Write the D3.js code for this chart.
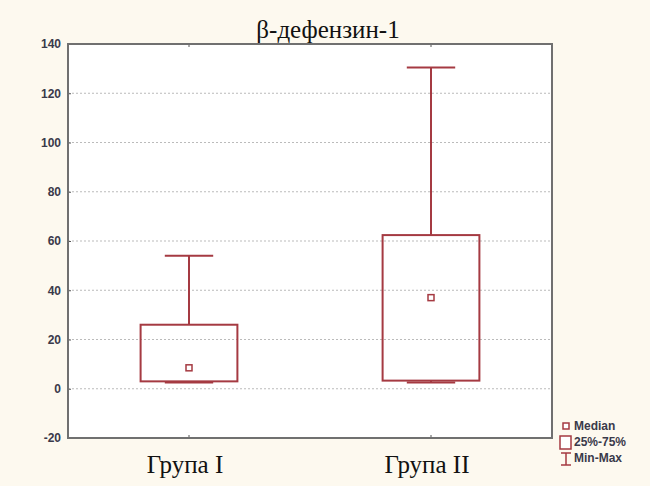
<!DOCTYPE html>
<html><head><meta charset="utf-8">
<script src="https://cdn.jsdelivr.net/npm/d3@7"></script>
<style>body{margin:0;background:#fdf9ef;} svg{display:block;}</style>
</head><body>
<svg id="c" width="650" height="486"></svg>
<script>
const categories = ["Група I", "Група II"];
const minVals = [2.5, 2.5];
const q1Vals = [3, 3.3];
const medianVals = [8.5, 37];
const q3Vals = [26, 62.4];
const maxVals = [54, 130.5];
const yTicks = [-20, 0, 20, 40, 60, 80, 100, 120, 140];
const title = "β-дефензин-1";
const legendLabels = ["Median", "25%-75%", "Min-Max"];

const svg = d3.select("#c");
const L = 68, R = 552, T = 44, B = 438;
const color = "#a53a42";
const x = d3.scaleBand().domain(categories).range([L, R]).padding(0);
const y = d3.scaleLinear().domain([-20, 140]).range([B, T]);

svg.append("rect").attr("width", 650).attr("height", 486).attr("fill", "#fdf9ef");
svg.append("rect").attr("x", L).attr("y", T).attr("width", R - L).attr("height", B - T).attr("fill", "#fff");

// grid
svg.append("g").selectAll("line").data(yTicks.filter(t => t > -20 && t < 140)).join("line")
  .attr("x1", L).attr("x2", R).attr("y1", d => y(d)).attr("y2", d => y(d))
  .attr("stroke", "#bbb").attr("stroke-width", 1).attr("stroke-dasharray", "2,2");

// y axis
const yAxis = d3.axisLeft(y).tickValues(yTicks).tickSize(-3).tickPadding(7).tickFormat(d => String(d));
const ga = svg.append("g").attr("transform", `translate(${L},0)`).call(yAxis);
ga.select(".domain").remove();
ga.selectAll(".tick line").attr("stroke", "#555");
ga.selectAll(".tick text").attr("font-family", "Liberation Sans, Arial, sans-serif")
  .attr("font-size", 12).attr("font-weight", "bold").attr("fill", "#3a3a4a");

// x axis ticks
const xAxis = d3.axisBottom(x).tickSize(-3).tickFormat("");
const gx = svg.append("g").attr("transform", `translate(0,${B})`).call(xAxis);
gx.select(".domain").remove();
gx.selectAll(".tick line").attr("stroke", "#555");
const gxt = svg.append("g").attr("transform", `translate(0,${T})`).call(d3.axisTop(x).tickSize(-3).tickFormat(""));
gxt.select(".domain").remove();
gxt.selectAll(".tick line").attr("stroke", "#555");

// boxes
const data = categories.map((c, i) => ({c, min: minVals[i], q1: q1Vals[i], med: medianVals[i], q3: q3Vals[i], max: maxVals[i]}));
const bw = x.bandwidth() * 0.4, cw = x.bandwidth() * 0.2;
const g = svg.append("g");
data.forEach(d => {
  const cx = x(d.c) + x.bandwidth() / 2;
  g.append("line").attr("x1", cx).attr("x2", cx).attr("y1", y(d.max)).attr("y2", y(d.q3)).attr("stroke", color).attr("stroke-width", 2);
  g.append("line").attr("x1", cx).attr("x2", cx).attr("y1", y(d.q1)).attr("y2", y(d.min)).attr("stroke", color).attr("stroke-width", 2);
  g.append("line").attr("x1", cx - cw/2).attr("x2", cx + cw/2).attr("y1", y(d.max)).attr("y2", y(d.max)).attr("stroke", color).attr("stroke-width", 2);
  g.append("line").attr("x1", cx - cw/2).attr("x2", cx + cw/2).attr("y1", y(d.min)).attr("y2", y(d.min)).attr("stroke", color).attr("stroke-width", 2);
  g.append("rect").attr("x", cx - bw/2).attr("y", y(d.q3)).attr("width", bw).attr("height", y(d.q1) - y(d.q3))
    .attr("fill", "none").attr("stroke", color).attr("stroke-width", 2);
  g.append("rect").attr("x", cx - 3).attr("y", y(d.med) - 3).attr("width", 6).attr("height", 6)
    .attr("fill", "#fff").attr("stroke", color).attr("stroke-width", 1.5);
});

// frame
svg.append("rect").attr("x", L).attr("y", T).attr("width", R - L).attr("height", B - T)
  .attr("fill", "none").attr("stroke", "#707070").attr("stroke-width", 2);

// title
svg.append("text").attr("x", 328).attr("y", 38).attr("text-anchor", "middle")
  .attr("font-family", "Liberation Serif, Times New Roman, serif").attr("font-size", 25).attr("fill", "#111").text(title);

// x labels
svg.append("g").selectAll("text").data(categories).join("text")
  .attr("x", d => x(d) + x.bandwidth() / 2 - 4).attr("y", 473).attr("text-anchor", "middle")
  .attr("font-family", "Liberation Serif, Times New Roman, serif").attr("font-size", 25).attr("fill", "#111").text(d => d);

// legend
const lg = svg.append("g").attr("font-family", "Liberation Sans, Arial, sans-serif").attr("font-size", 12).attr("fill", "#3a3a4a");
lg.append("rect").attr("x", 563).attr("y", 423).attr("width", 6).attr("height", 6).attr("fill", "#fff").attr("stroke", color).attr("stroke-width", 1.5);
lg.append("rect").attr("x", 560).attr("y", 436).attr("width", 11).attr("height", 13).attr("fill", "#fff").attr("stroke", color).attr("stroke-width", 1.5);
lg.append("path").attr("d", "M561,453H571M566,453V465M561,465H571").attr("fill", "none").attr("stroke", color).attr("stroke-width", 1.5);
legendLabels.forEach((t, i) => {
  lg.append("text").attr("x", 574).attr("y", 430 + i * 16).attr("font-weight", "bold").text(t);
});
</script>
</body></html>
